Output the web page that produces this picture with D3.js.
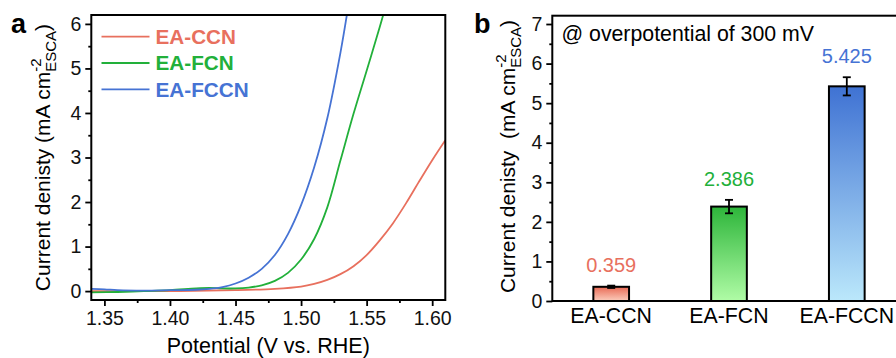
<!DOCTYPE html>
<html>
<head>
<meta charset="utf-8">
<script src="https://cdn.jsdelivr.net/npm/d3@7"></script>
<style>
  body { margin: 0; background: #fff; }
  svg { font-family: "Liberation Sans", Arial, sans-serif; }
  text { white-space: pre; }
</style>
</head>
<body>
<div id="chart"></div>
<script>
// panel a: LSV curves
const seriesNames = ['EA-CCN', 'EA-FCN', 'EA-FCCN'];
const seriesColors = ['#e8705e', '#22b03a', '#4673d4'];

const ccnPotential = [1.34, 1.40, 1.45, 1.48, 1.50, 1.51, 1.52, 1.53, 1.54, 1.55, 1.56, 1.57, 1.58, 1.59, 1.60, 1.61];
const ccnCurrent   = [0.00, 0.00, 0.02, 0.05, 0.10, 0.16, 0.25, 0.38, 0.56, 0.81, 1.14, 1.52, 1.97, 2.46, 2.94, 3.39];

const fcnPotential = [1.34, 1.36, 1.38, 1.40, 1.42, 1.43, 1.44, 1.45, 1.46, 1.47, 1.48, 1.49, 1.50, 1.51, 1.52, 1.53, 1.54, 1.55, 1.56, 1.565];
const fcnCurrent   = [-0.03, -0.02, 0.00, 0.02, 0.06, 0.07, 0.06, 0.06, 0.08, 0.13, 0.23, 0.41, 0.71, 1.17, 1.88, 2.93, 3.98, 4.95, 5.93, 6.45];

const fccnPotential = [1.34, 1.35, 1.36, 1.38, 1.40, 1.42, 1.43, 1.44, 1.45, 1.46, 1.47, 1.48, 1.49, 1.50, 1.51, 1.52, 1.53, 1.536];
const fccnCurrent   = [0.05, 0.04, 0.02, 0.01, 0.02, 0.03, 0.05, 0.09, 0.17, 0.30, 0.50, 0.81, 1.28, 1.93, 2.78, 3.88, 5.35, 6.40];

const xTicksA = [1.35, 1.40, 1.45, 1.50, 1.55, 1.60];
const yTicksA = [0, 1, 2, 3, 4, 5, 6];

// panel b: bars at 300 mV overpotential
const barCategories = ['EA-CCN', 'EA-FCN', 'EA-FCCN'];
const barValues = [0.359, 2.386, 5.425];
const barErrors = [0.03, 0.17, 0.23];
const barLabels = ['0.359', '2.386', '5.425'];
const barTop = ['#e96a55', '#2db53a', '#3f72d3'];
const barBottom = ['#fbcdbd', '#b0fca6', '#bbe8fb'];
const yTicksB = [0, 1, 2, 3, 4, 5, 6, 7];

const width = 896, height = 358;
const svg = d3.select('#chart').append('svg')
  .attr('width', width)
  .attr('height', height);

drawPanelA();
drawPanelB();

function axisTitle(g, x, y, prefix) {
  const t = g.append('text')
    .attr('transform', `translate(${x},${y}) rotate(-90)`)
    .attr('text-anchor', 'middle')
    .attr('font-size', 21);
  t.append('tspan').text(prefix + '(mA cm');
  const sup = t.append('tspan').attr('font-size', 15).attr('dy', -9).text('-2');
  const supW = sup.node().getComputedTextLength();
  t.append('tspan').attr('font-size', 15).attr('dx', -supW).attr('dy', 15).text('ESCA');
  t.append('tspan').attr('dy', -6).text(')');
}

function drawPanelA() {
  const box = { left: 91.3, right: 445.3, top: 15, bottom: 300 };
  const x = d3.scaleLinear().domain([1.34, 1.61]).range([box.left, box.right]);
  const y = d3.scaleLinear().domain([-0.2, 6.2]).range([box.bottom, box.top]);
  const g = svg.append('g');

  svg.append('defs').append('clipPath').attr('id', 'clipA')
    .append('rect')
    .attr('x', box.left).attr('y', box.top)
    .attr('width', box.right - box.left).attr('height', box.bottom - box.top);

  const line = d3.line().x(d => x(d[0])).y(d => y(d[1])).curve(d3.curveCatmullRom.alpha(0.5));
  const curves = [
    d3.zip(ccnPotential, ccnCurrent),
    d3.zip(fcnPotential, fcnCurrent),
    d3.zip(fccnPotential, fccnCurrent),
  ];
  g.append('g').attr('clip-path', 'url(#clipA)')
    .selectAll('path')
    .data(curves)
    .enter().append('path')
    .attr('fill', 'none')
    .attr('stroke', (d, i) => seriesColors[i])
    .attr('stroke-width', 1.8)
    .attr('d', line);

  const xMinorVals = xTicksA.map(v => v + 0.025).filter(v => v < 1.61);
  const yMinorVals = yTicksA.map(v => v + 0.5).filter(v => v < 6.2);
  const xAxis = d3.axisBottom(x).tickValues(xTicksA).tickFormat(d3.format('.2f')).tickSize(6).tickPadding(5);
  const xMinor = d3.axisBottom(x).tickValues(xMinorVals).tickFormat('').tickSize(3);
  const yAxis = d3.axisLeft(y).tickValues(yTicksA).tickFormat(d3.format('d')).tickSize(6).tickPadding(4);
  const yMinor = d3.axisLeft(y).tickValues(yMinorVals).tickFormat('').tickSize(3);

  styleAxis(g.append('g').attr('transform', `translate(0,${box.bottom})`).call(xAxis));
  styleAxis(g.append('g').attr('transform', `translate(0,${box.bottom})`).call(xMinor));
  styleAxis(g.append('g').attr('transform', `translate(${box.left},0)`).call(yAxis));
  styleAxis(g.append('g').attr('transform', `translate(${box.left},0)`).call(yMinor));

  g.append('rect')
    .attr('x', box.left).attr('y', box.top)
    .attr('width', box.right - box.left).attr('height', box.bottom - box.top)
    .attr('fill', 'none').attr('stroke', '#000').attr('stroke-width', 2);

  // legend
  const legend = g.selectAll('g.legend')
    .data(seriesNames)
    .enter().append('g')
    .attr('class', 'legend')
    .attr('transform', (d, i) => `translate(101.5,${36.7 + i * 26.3})`);
  legend.append('line')
    .attr('x1', 0).attr('x2', 48)
    .attr('stroke', (d, i) => seriesColors[i])
    .attr('stroke-width', 1.8);
  legend.append('text')
    .attr('x', 54).attr('dy', 7.3)
    .attr('font-size', 20.7).attr('font-weight', 'bold')
    .attr('fill', (d, i) => seriesColors[i])
    .text(d => d);

  g.append('text')
    .attr('x', (box.left + box.right) / 2).attr('y', 352.5)
    .attr('text-anchor', 'middle').attr('font-size', 21.5)
    .text('Potential (V vs. RHE)');

  axisTitle(g, 50, 157.5, 'Current denisty ');

  g.append('text')
    .attr('x', 11).attr('y', 33)
    .attr('font-size', 27).attr('font-weight', 'bold')
    .text('a');
}

function drawPanelB() {
  const box = { left: 552.3, right: 905.7, top: 15.7, bottom: 301 };
  const x = d3.scaleBand().domain(barCategories).range([box.left, box.right]);
  const y = d3.scaleLinear().domain([0, 7.21]).range([box.bottom, box.top]);
  const g = svg.append('g');
  const barW = x.bandwidth() * 0.303;

  const defs = svg.append('defs');
  barCategories.forEach((c, i) => {
    const grad = defs.append('linearGradient')
      .attr('id', `grad${i}`)
      .attr('x1', 0).attr('y1', 0).attr('x2', 0).attr('y2', 1);
    grad.append('stop').attr('offset', '0%').attr('stop-color', barTop[i]);
    grad.append('stop').attr('offset', '100%').attr('stop-color', barBottom[i]);
  });

  g.selectAll('rect.bar')
    .data(barValues)
    .enter().append('rect')
    .attr('class', 'bar')
    .attr('x', (d, i) => x(barCategories[i]) + x.bandwidth() / 2 - barW / 2)
    .attr('y', d => y(d))
    .attr('width', barW)
    .attr('height', d => y(0) - y(d))
    .attr('fill', (d, i) => `url(#grad${i})`)
    .attr('stroke', '#000')
    .attr('stroke-width', 2);

  // error bars
  const err = g.selectAll('g.err')
    .data(barValues)
    .enter().append('g')
    .attr('class', 'err')
    .attr('transform', (d, i) => `translate(${x(barCategories[i]) + x.bandwidth() / 2},0)`)
    .attr('stroke', '#000').attr('stroke-width', 1.8);
  err.append('line')
    .attr('y1', (d, i) => y(d + barErrors[i]))
    .attr('y2', (d, i) => y(d - barErrors[i]));
  err.append('line')
    .attr('x1', -4).attr('x2', 4)
    .attr('y1', (d, i) => y(d + barErrors[i]))
    .attr('y2', (d, i) => y(d + barErrors[i]));
  err.append('line')
    .attr('x1', -4).attr('x2', 4)
    .attr('y1', (d, i) => y(d - barErrors[i]))
    .attr('y2', (d, i) => y(d - barErrors[i]));

  g.selectAll('text.val')
    .data(barLabels)
    .enter().append('text')
    .attr('class', 'val')
    .attr('x', (d, i) => x(barCategories[i]) + x.bandwidth() / 2)
    .attr('y', (d, i) => y(barValues[i] + barErrors[i]) - 14)
    .attr('text-anchor', 'middle')
    .attr('font-size', 20)
    .attr('fill', (d, i) => seriesColors[i])
    .text(d => d);

  const yAxis = d3.axisLeft(y).tickValues(yTicksB).tickSize(6).tickPadding(4);
  const yMinor = d3.axisLeft(y).tickValues(yTicksB.map(v => v + 0.5).filter(v => v < 7.2)).tickFormat('').tickSize(3);
  styleAxis(g.append('g').attr('transform', `translate(${box.left},0)`).call(yAxis));
  styleAxis(g.append('g').attr('transform', `translate(${box.left},0)`).call(yMinor));

  g.append('rect')
    .attr('x', box.left).attr('y', box.top)
    .attr('width', box.right - box.left).attr('height', box.bottom - box.top)
    .attr('fill', 'none').attr('stroke', '#000').attr('stroke-width', 2);

  g.selectAll('text.cat')
    .data(barCategories)
    .enter().append('text')
    .attr('class', 'cat')
    .attr('x', d => x(d) + x.bandwidth() / 2)
    .attr('y', 323)
    .attr('text-anchor', 'middle')
    .attr('font-size', 21.3)
    .text(d => d);

  g.append('text')
    .attr('x', 561.5).attr('y', 40.5)
    .attr('font-size', 21.3)
    .text('@ overpotential of 300 mV');

  axisTitle(g, 515, 156.5, 'Current denisty  ');

  g.append('text')
    .attr('x', 474).attr('y', 33)
    .attr('font-size', 27).attr('font-weight', 'bold')
    .text('b');
}

function styleAxis(sel) {
  sel.select('.domain').remove();
  sel.selectAll('line').attr('stroke', '#000').attr('stroke-width', 1.8);
  sel.selectAll('text').attr('font-size', 19.5).attr('fill', '#111')
    .attr('font-family', '"Liberation Sans", Arial, sans-serif');
}
</script>
</body>
</html>
